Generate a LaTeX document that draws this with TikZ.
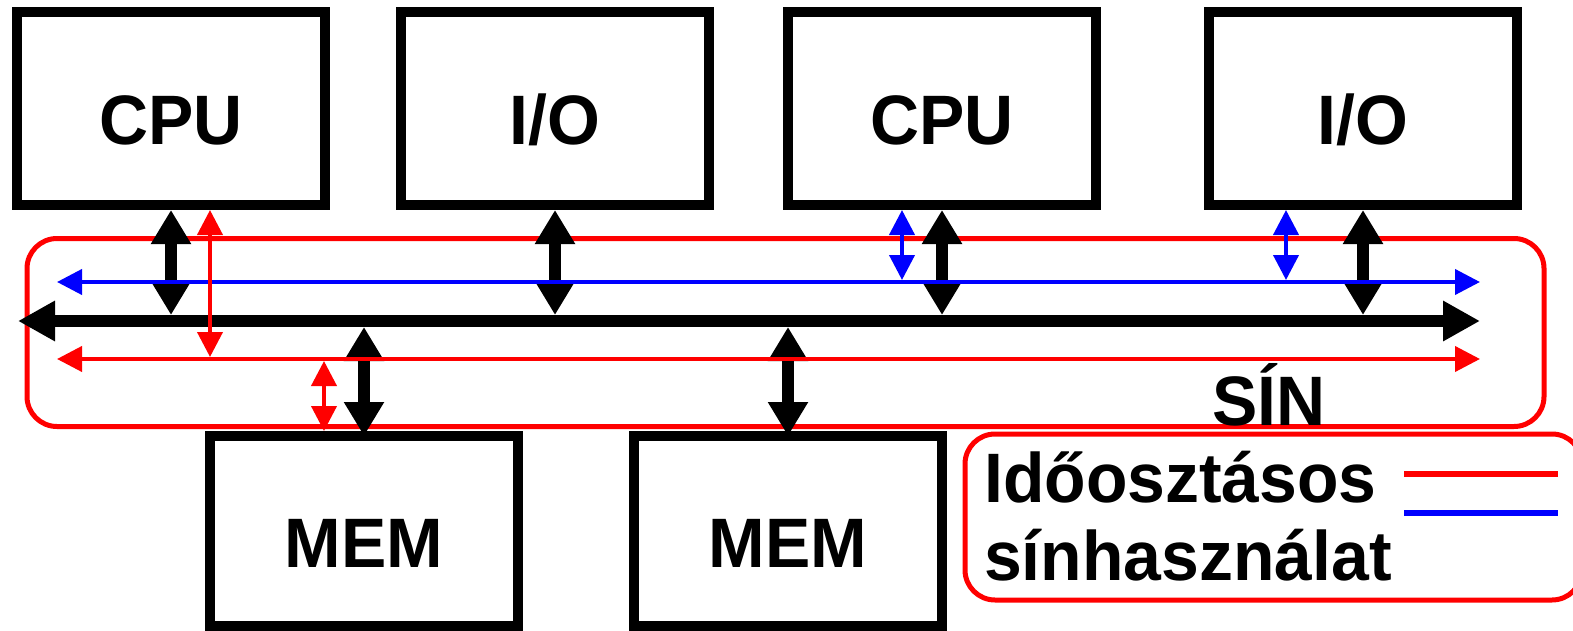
\documentclass[tikz,border=0pt]{standalone}
\usepackage{fontspec}
\setmainfont[FakeStretch=0.97]{Liberation Sans}
\usetikzlibrary{arrows.meta}
\definecolor{busred}{RGB}{255,0,0}
\definecolor{busblue}{RGB}{0,0,255}
\tikzset{
  unitbox/.style={draw=black, line width=10pt, minimum width=308pt, minimum height=193pt,
    inner sep=0pt, text height=72pt, text depth=0pt,
    font=\fontsize{70pt}{78pt}\selectfont\bfseries},
  bigbus/.style={line width=12.6pt, {Triangle[length=37pt,width=38pt]}-{Triangle[length=37pt,width=38pt]}},
  taparrow/.style={line width=12pt, {Triangle[length=34pt,width=38pt]}-{Triangle[length=34pt,width=38pt]}},
  thinline/.style={line width=4pt, {Triangle[length=25pt,width=25pt]}-{Triangle[length=25pt,width=25pt]}},
  frame/.style={draw=busred, line width=5pt, rounded corners=30pt},
  bigtext/.style={font=\fontsize{70pt}{78pt}\selectfont\bfseries, inner sep=0pt},
}
\begin{document}
\begin{tikzpicture}[x=1pt, y=-1pt]
\useasboundingbox (0,0) rectangle (1573,631);

% processing units on top, memories below
\node[unitbox] (cpu1) at (171,108.5) {CPU};
\node[unitbox] (io1)  at (555,108.5) {I/O};
\node[unitbox] (cpu2) at (942,108.5) {CPU};
\node[unitbox] (io2)  at (1363,108.5) {I/O};
\node[unitbox, minimum height=190pt] (mem1) at (364,531) {MEM};
\node[unitbox, minimum height=190pt] (mem2) at (788,531) {MEM};

% bus frame and its label
\draw[frame] (27,238.5) rectangle (1544,426.5);
\node[bigtext, anchor=base west] (sin) at (1212,425) {SÍN};

% bus lines
\coordinate (blueW) at (57,282);   \coordinate (blueE) at (1480,282);
\coordinate (busW)  at (18,321);   \coordinate (busE)  at (1480,321);
\coordinate (redW)  at (57,359);   \coordinate (redE)  at (1480,359);
\coordinate (busTop) at (0,315);   \coordinate (busBot) at (0,327);

\draw[bigbus] (busW) -- (busE);

% units attached to the bus
\draw[taparrow] (cpu1.south) -- (cpu1.south |- busTop);
\draw[taparrow] (io1.south)  -- (io1.south |- busTop);
\draw[taparrow] (cpu2.south) -- (cpu2.south |- busTop);
\draw[taparrow] (io2.south)  -- (io2.south |- busTop);
\draw[taparrow] (mem1.north |- busBot) -- ([yshift=-5pt]mem1.north);
\draw[taparrow] (mem2.north |- busBot) -- ([yshift=-5pt]mem2.north);

% time-shared bus usage
\draw[thinline, draw=busblue, fill=busblue] (blueW) -- (blueE);
\draw[thinline, draw=busred, fill=busred] (redW) -- (redE);

\coordinate (tapR1) at (210,357);
\coordinate (tapR2) at (324,361);
\coordinate (tapB1) at (902,280);
\coordinate (tapB2) at (1286,280);
\draw[thinline, draw=busred, fill=busred] (tapR1 |- cpu1.south) -- (tapR1);
\draw[thinline, draw=busred, fill=busred] (tapR2) -- (tapR2 |- mem1.north);
\draw[thinline, draw=busblue, fill=busblue] (tapB1 |- cpu2.south) -- (tapB1);
\draw[thinline, draw=busblue, fill=busblue] (tapB2 |- io2.south) -- (tapB2);

% legend
\draw[frame] (965,434) rectangle (1582,600);
\node[bigtext, anchor=base west] (leg1) at (984,502) {Időosztásos};
\node[bigtext, anchor=base west] (leg2) at (984,580) {sínhasználat};
\coordinate (lr1) at (1404,474); \coordinate (lr2) at (1558,474);
\coordinate (lb1) at (1404,513); \coordinate (lb2) at (1558,513);
\draw[busred, line width=6.5pt] (lr1) -- (lr2);
\draw[busblue, line width=6.5pt] (lb1) -- (lb2);
\end{tikzpicture}
\end{document}
